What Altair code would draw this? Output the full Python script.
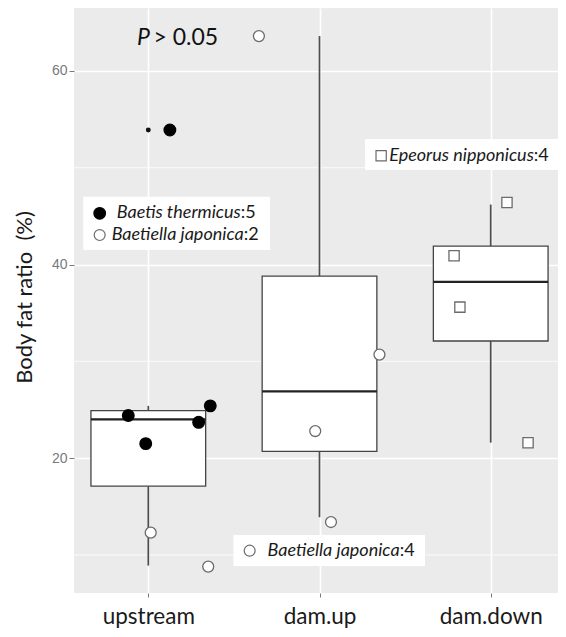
import altair as alt
import pandas as pd

# ---------------- data ----------------
sites = ["upstream", "dam.up", "dam.down"]

# box-plot statistics per site
box_lo = [8.9, 13.9, 21.6]
box_q1 = [17.1, 20.7, 32.1]
box_med = [24.0, 26.9, 38.2]
box_q3 = [24.9, 38.8, 41.9]
box_hi = [25.4, 63.6, 46.2]

outlier_site = ["upstream"]
outlier_value = [53.9]

# individual observations (jittered horizontally)
point_site = ["upstream"] * 7 + ["dam.up"] * 4 + ["dam.down"] * 4
point_species = (["Baetis thermicus"] * 5 + ["Baetiella japonica"] * 2
                 + ["Baetiella japonica"] * 4 + ["Epeorus nipponicus"] * 4)
point_value = [24.4, 21.5, 23.7, 25.4, 53.9, 12.3, 8.8,
               63.6, 22.8, 30.7, 13.4,
               46.4, 40.9, 35.6, 21.6]
point_jitter = [-0.117, -0.015, 0.294, 0.362, 0.126, 0.014, 0.35,
                -0.354, -0.025, 0.35, 0.067,
                0.095, -0.214, -0.180, 0.218]

species = ["Baetis thermicus", "Baetiella japonica", "Epeorus nipponicus"]

# in-plot legend annotations
leg_species = ["Baetis thermicus", "Baetiella japonica", "Epeorus nipponicus", "Baetiella japonica"]
leg_count = [":5", ":2", ":4", ":4"]
leg_sym_x = [0.716, 0.716, 2.360, 1.592]
leg_colon_x = [1.540, 1.557, 3.252, 2.468]
leg_y = [45.29, 43.05, 51.24, 10.44]

leg_box_x = [0.620, 2.266, 1.497]
leg_box_x2 = [1.711, 3.424, 2.616]
leg_box_y = [47.01, 52.97, 12.06]
leg_box_y2 = [41.5, 49.76, 8.86]

minor_grid = [10, 30, 50]
major_ticks = [20, 40, 60]

# ---------------- tables ----------------
pos = {s: i + 1 for i, s in enumerate(sites)}
box_df = pd.DataFrame({"site": sites, "lo": box_lo, "q1": box_q1, "med": box_med,
                       "q3": box_q3, "hi": box_hi})
box_df["x"] = box_df["site"].map(pos)
box_df["xl"] = box_df["x"] - 0.335
box_df["xr"] = box_df["x"] + 0.335

out_df = pd.DataFrame({"site": outlier_site, "value": outlier_value})
out_df["x"] = out_df["site"].map(pos)

pt_df = pd.DataFrame({"site": point_site, "species": point_species,
                      "value": point_value, "jit": point_jitter})
pt_df["x"] = pt_df["site"].map(pos) + pt_df["jit"]

leg_df = pd.DataFrame({"species": leg_species, "count": leg_count,
                       "sx": leg_sym_x, "cx": leg_colon_x, "y": leg_y})
legbox_df = pd.DataFrame({"x": leg_box_x, "x2": leg_box_x2, "y": leg_box_y, "y2": leg_box_y2})
grid_df = pd.DataFrame({"y": minor_grid})
p_df = pd.DataFrame({"x": [1.010], "x2": [1.030], "y": [63.45]})

W, H = 484, 585
XDOM = [0.566, 3.393]
YDOM = [6.07, 66.5]

xs = alt.Scale(domain=XDOM, nice=False, zero=False)
ys = alt.Scale(domain=YDOM, nice=False, zero=False)

label_expr = str(sites) + "[datum.value - 1]"
x_axis = alt.Axis(values=[1, 2, 3], labelExpr=label_expr, title=None,
                  labelFont="Lato", labelFontSize=22.5, labelColor="#1a1a1a",
                  tickColor="#7a7a7a", tickSize=4, labelPadding=26,
                  labelBaseline="alphabetic", domain=False,
                  grid=True, gridColor="white", gridWidth=1.6)
y_axis = alt.Axis(values=major_ticks, title="Body fat ratio \u00a0(%)",
                  labelFont="Liberation Sans", labelFontSize=14, labelColor="#7a7a7a",
                  tickColor="#7a7a7a", tickSize=5, labelPadding=2, domain=False,
                  grid=True, gridColor="white", gridWidth=1.6,
                  titleFont="Lato", titleFontSize=22, titleFontWeight="normal",
                  titleColor="#1a1a1a", titleX=-43, titleY=289,
                  titleBaseline="alphabetic", titleAlign="center")

base_grid = alt.Chart(grid_df).mark_rule(color="white", strokeWidth=0.8).encode(
    y=alt.Y("y:Q", scale=ys, axis=y_axis),
    x=alt.value(0), x2=alt.value(W)
)
# invisible layer to carry the x axis
xaxis_layer = alt.Chart(box_df).mark_point(opacity=0).encode(
    x=alt.X("x:Q", scale=xs, axis=x_axis),
    y=alt.Y("med:Q", scale=ys)
)

whisk_lo = alt.Chart(box_df).mark_rule(color="#4d4d4d", strokeWidth=1.7).encode(
    x=alt.X("x:Q", scale=xs), y=alt.Y("lo:Q", scale=ys), y2="q1:Q")
whisk_hi = alt.Chart(box_df).mark_rule(color="#4d4d4d", strokeWidth=1.7).encode(
    x=alt.X("x:Q", scale=xs), y=alt.Y("q3:Q", scale=ys), y2="hi:Q")
boxes = alt.Chart(box_df).mark_rect(fill="white", stroke="#444444", strokeWidth=1.3).encode(
    x=alt.X("xl:Q", scale=xs), x2="xr:Q", y=alt.Y("q1:Q", scale=ys), y2="q3:Q")
medians = alt.Chart(box_df).mark_rule(color="#222222", strokeWidth=2.3).encode(
    x=alt.X("xl:Q", scale=xs), x2="xr:Q", y=alt.Y("med:Q", scale=ys))
outliers = alt.Chart(out_df).mark_circle(color="#111111", size=24, opacity=1).encode(
    x=alt.X("x:Q", scale=xs), y=alt.Y("value:Q", scale=ys))

shape_scale = alt.Scale(domain=species, range=["circle", "circle", "square"])
fill_scale = alt.Scale(domain=species, range=["#000000", "#ffffff", "#ffffff"])
stroke_scale = alt.Scale(domain=species, range=["#000000", "#6b6b6b", "#6b6b6b"])

points = alt.Chart(pt_df).mark_point(filled=True, opacity=1, strokeWidth=1.3).encode(
    x=alt.X("x:Q", scale=xs), y=alt.Y("value:Q", scale=ys),
    shape=alt.Shape("species:N", scale=shape_scale, legend=None),
    fill=alt.Fill("species:N", scale=fill_scale, legend=None),
    stroke=alt.Stroke("species:N", scale=stroke_scale, legend=None),
    size=alt.Size("species:N", scale=alt.Scale(domain=species, range=[135, 105, 105]), legend=None),
)

leg_boxes = alt.Chart(legbox_df).mark_rect(fill="white").encode(
    x=alt.X("x:Q", scale=xs), x2="x2:Q", y=alt.Y("y:Q", scale=ys), y2="y2:Q")
leg_syms = alt.Chart(leg_df).mark_point(filled=True, opacity=1, strokeWidth=1.2).encode(
    x=alt.X("sx:Q", scale=xs), y=alt.Y("y:Q", scale=ys),
    shape=alt.Shape("species:N", scale=shape_scale, legend=None),
    fill=alt.Fill("species:N", scale=fill_scale, legend=None),
    stroke=alt.Stroke("species:N", scale=stroke_scale, legend=None),
    size=alt.Size("species:N", scale=alt.Scale(domain=species, range=[85, 75, 95]), legend=None),
)
leg_names = alt.Chart(leg_df).mark_text(font="Lato", fontSize=18, fontStyle="italic",
                                        align="right", baseline="middle", color="#1a1a1a").encode(
    x=alt.X("cx:Q", scale=xs), y=alt.Y("y:Q", scale=ys), text="species:N")
leg_counts = alt.Chart(leg_df).mark_text(font="Lato", fontSize=18, align="left",
                                         baseline="middle", color="#1a1a1a").encode(
    x=alt.X("cx:Q", scale=xs), y=alt.Y("y:Q", scale=ys), text="count:N")

p_italic = alt.Chart(p_df).mark_text(text="P", font="Lato", fontSize=23, fontStyle="italic",
                                     align="right", baseline="middle", color="#111111").encode(
    x=alt.X("x:Q", scale=xs), y=alt.Y("y:Q", scale=ys))
p_rest = alt.Chart(p_df).mark_text(text="> 0.05", font="Lato", fontSize=23,
                                   align="left", baseline="middle", color="#111111").encode(
    x=alt.X("x2:Q", scale=xs), y=alt.Y("y:Q", scale=ys))

chart = alt.layer(
    base_grid, xaxis_layer, whisk_lo, whisk_hi, boxes, medians, outliers, points,
    leg_boxes, leg_syms, leg_names, leg_counts, p_italic, p_rest
).properties(
    width=W, height=H,
    padding={"left": 66, "top": 0, "right": 0, "bottom": 36},
    autosize=alt.AutoSizeParams(type="none"),
).configure_view(fill="#EBEBEB", strokeWidth=0)

chart.save("out.html", embed_options={"renderer": "svg", "actions": False})
